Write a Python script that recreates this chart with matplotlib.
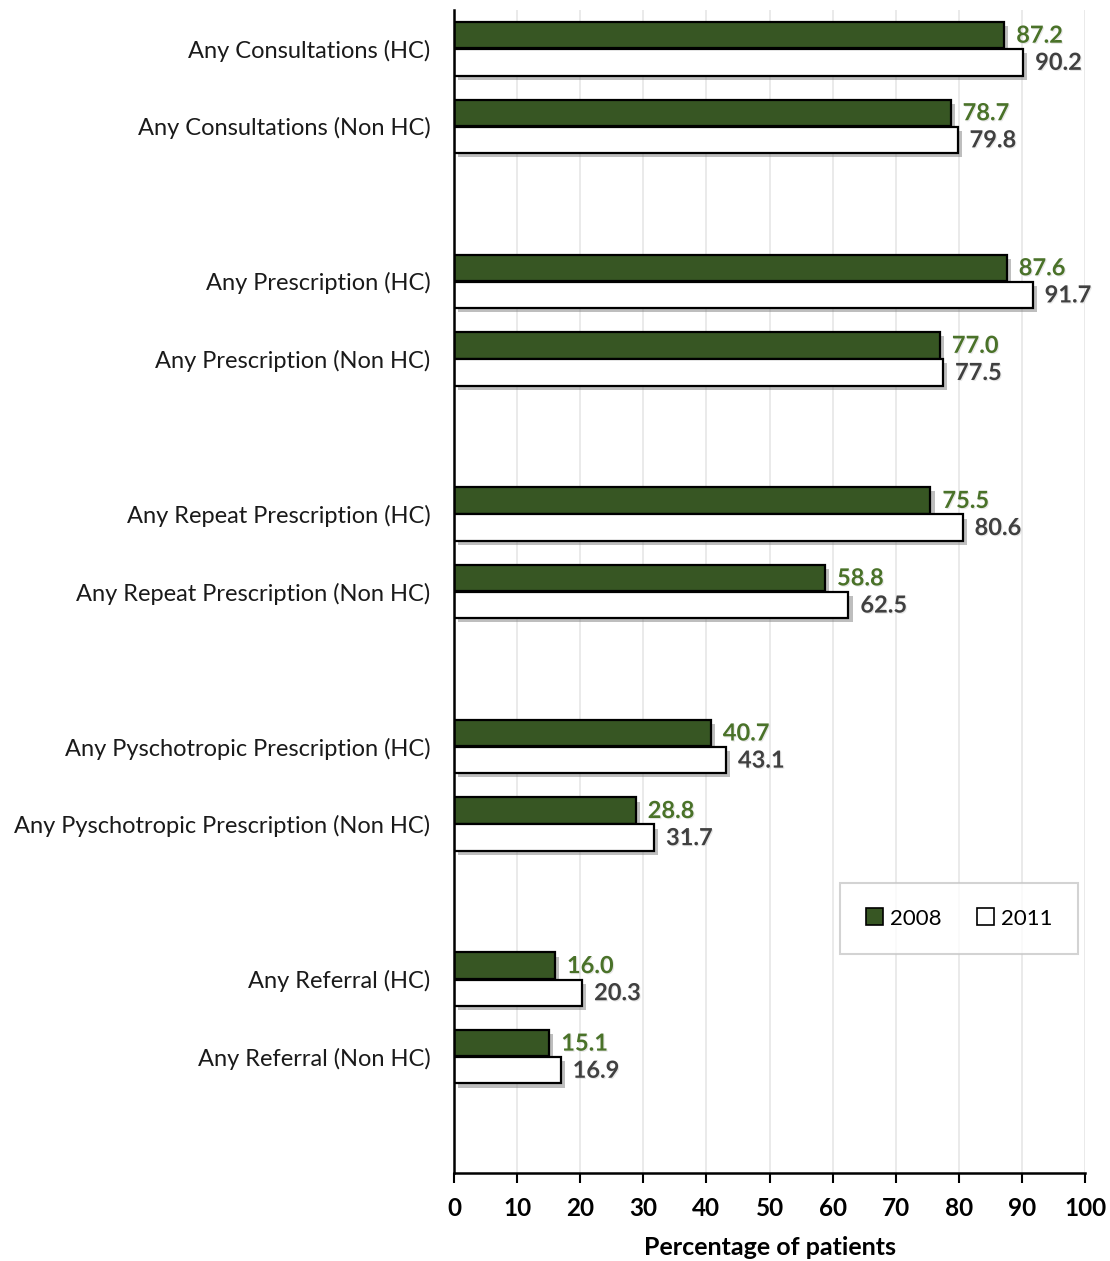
import matplotlib
matplotlib.use('Agg')
import matplotlib.pyplot as plt
import matplotlib.patheffects as pe
import numpy as np

plt.rcParams['font.family'] = ['Lato', 'DejaVu Sans']

categories = ['Any Consultations (HC)', 'Any Consultations (Non HC)',
              'Any Prescription (HC)', 'Any Prescription (Non HC)',
              'Any Repeat Prescription (HC)', 'Any Repeat Prescription (Non HC)',
              'Any Pyschotropic Prescription (HC)', 'Any Pyschotropic Prescription (Non HC)',
              'Any Referral (HC)', 'Any Referral (Non HC)']
vals_2008 = [87.2, 78.7, 87.6, 77.0, 75.5, 58.8, 40.7, 28.8, 16.0, 15.1]
vals_2011 = [90.2, 79.8, 91.7, 77.5, 80.6, 62.5, 43.1, 31.7, 20.3, 16.9]
years = ['2008', '2011']

GREEN = '#375623'
LABEL_GREEN = '#4a7229'
LABEL_GREY = '#404040'

# pairs of categories separated by an empty slot
pos = np.array([(i // 2) * 3 + (i % 2) for i in range(len(categories))], dtype=float)
h = 0.34
off = 0.175

fig = plt.figure(figsize=(11.1, 12.61), dpi=100)
ax = fig.add_axes([454 / 1110, 1 - 1173 / 1261, 631 / 1110, 1163 / 1261])

bar_shadow = [pe.SimplePatchShadow(offset=(3, -3), shadow_rgbFace='#7f7f7f', alpha=0.5), pe.Normal()]
txt_shadow = [pe.withSimplePatchShadow(offset=(0.8, -0.8), shadow_rgbFace='#b0b0b0', alpha=0.3)]

b1 = ax.barh(pos - off, vals_2008, height=h, color=GREEN, edgecolor='black', linewidth=1.6,
             label=years[0], zorder=3)
b2 = ax.barh(pos + off, vals_2011, height=h, color='white', edgecolor='black', linewidth=1.6,
             label=years[1], zorder=3)
for b in list(b1) + list(b2):
    b.set_path_effects(bar_shadow)

for y, v in zip(pos - off, vals_2008):
    ax.text(v + 1.9, y, f'{v:.1f}', va='center', ha='left', fontsize=17, fontweight='bold',
            color=LABEL_GREEN, zorder=4, path_effects=txt_shadow)
for y, v in zip(pos + off, vals_2011):
    ax.text(v + 1.9, y, f'{v:.1f}', va='center', ha='left', fontsize=17, fontweight='bold',
            color=LABEL_GREY, zorder=4, path_effects=txt_shadow)

ax.set_ylim(14.5, -0.5)
ax.set_xlim(0, 100)
ax.set_yticks(pos)
ax.set_yticklabels(categories, fontsize=17, color='#1a1a1a')
ax.tick_params(axis='y', length=0, pad=17)
ax.set_xticks(np.arange(0, 101, 10))
ax.tick_params(axis='x', direction='out', length=7, width=1.5, labelsize=17.5, pad=10)
for lbl in ax.get_xticklabels():
    lbl.set_fontweight('bold')
ax.set_xlabel('Percentage of patients', fontsize=18, fontweight='bold', labelpad=12)

ax.grid(axis='x', color='#e6e6e6', linewidth=1.2, zorder=0)
ax.set_axisbelow(True)
for s in ['top', 'right']:
    ax.spines[s].set_visible(False)
for s in ['left', 'bottom']:
    ax.spines[s].set_linewidth(1.8)
    ax.spines[s].set_zorder(5)

leg = ax.legend(loc='center', bbox_to_anchor=(386 / 631, (1173 - 955) / 1163, 238 / 631, 73 / 1163),
                mode='expand', ncol=2, fontsize=16, frameon=True, fancybox=False, borderpad=1.15,
                handlelength=0.8, handleheight=0.8, handletextpad=0.3, columnspacing=1.5,
                borderaxespad=0)
leg.get_frame().set_edgecolor('#c8c8c8')
leg.get_frame().set_linewidth(1.5)
for hnd in leg.legend_handles:
    hnd.set_linewidth(1.2)
    hnd.set_path_effects([])

fig.savefig('out.png', dpi=100)
